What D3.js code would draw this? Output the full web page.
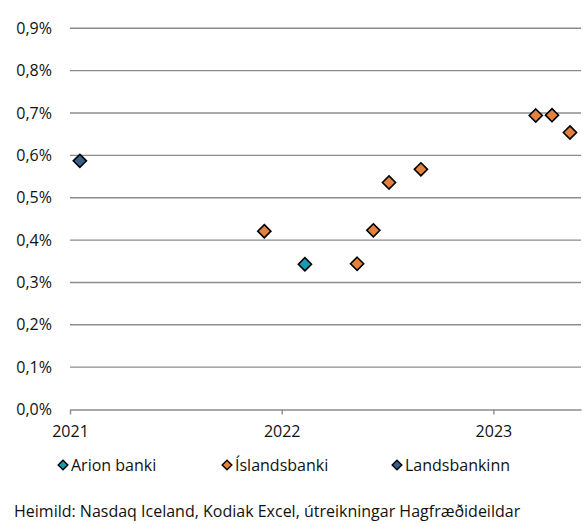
<!DOCTYPE html>
<html>
<head>
<meta charset="utf-8">
<script src="https://cdn.jsdelivr.net/npm/d3@7"></script>
<style>
  body { margin: 0; background: #fff; }
  text { font-family: "Open Sans", sans-serif; fill: #111; }
</style>
</head>
<body>
<script>
// series names and colours
var seriesNames = ['Arion banki', 'Íslandsbanki', 'Landsbankinn'];
var seriesColors = ['#1a9bb0', '#e3823e', '#386089'];

// dates and values (%)
var arionDates = ['2022-02-10'];
var arionValues = [0.343];

var islandsDates = ['2021-12-02', '2022-05-11', '2022-06-08', '2022-07-05', '2022-08-29',
  '2023-03-15', '2023-04-12', '2023-05-13'];
var islandsValues = [0.421, 0.344, 0.423, 0.536, 0.567, 0.694, 0.695, 0.654];

var landsDates = ['2021-01-18'];
var landsValues = [0.587];

var yTicks = [0, 0.1, 0.2, 0.3, 0.4, 0.5, 0.6, 0.7, 0.8, 0.9];
var xTickLabels = ['2021', '2022', '2023'];
var source = 'Heimild: Nasdaq Iceland, Kodiak Excel, útreikningar Hagfræðideildar';

var width = 583, height = 524;
var plotLeft = 70, plotRight = 581, plotTop = 28.3, plotBottom = 409.5;
var fontSize = '16px';

var parse = d3.timeParse('%Y-%m-%d');

var svg = d3.select('body').append('svg')
  .attr('width', width)
  .attr('height', height);

var x = d3.scaleTime()
  .domain([parse('2021-01-01'), parse('2023-06-01')])
  .range([plotLeft, plotRight]);

var y = d3.scaleLinear()
  .domain([0, 0.9])
  .range([plotBottom, plotTop]);

// gridlines
svg.append('g')
  .selectAll('line')
  .data(yTicks.filter(function(d) { return d > 0; }))
  .enter()
  .append('line')
  .attr('x1', plotLeft)
  .attr('x2', plotRight)
  .attr('y1', function(d) { return y(d); })
  .attr('y2', function(d) { return y(d); })
  .attr('stroke', '#8c8c8c')
  .attr('stroke-width', 1.4);

// y labels
var fmt = function(d) { return d.toFixed(1).replace('.', ',') + '%'; };
var yAxis = d3.axisLeft(y).tickValues(yTicks).tickFormat(fmt).tickSize(0).tickPadding(18);
svg.append('g')
  .attr('transform', 'translate(' + plotLeft + ',0)')
  .call(yAxis)
  .call(function(g) { g.select('.domain').remove(); })
  .selectAll('text')
  .style('font-family', '"Open Sans", sans-serif')
  .style('font-size', fontSize)
  .attr('fill', '#111');

// x axis
var xAxis = d3.axisBottom(x)
  .tickValues(xTickLabels.map(function(d) { return parse(d + '-01-01'); }))
  .tickFormat(function(d, i) { return xTickLabels[i]; })
  .tickSize(5)
  .tickSizeOuter(0)
  .tickPadding(11);
var gx = svg.append('g')
  .attr('transform', 'translate(0,' + plotBottom + ')')
  .call(xAxis);
gx.select('.domain').attr('stroke', '#8c8c8c').attr('stroke-width', 1.4);
gx.selectAll('.tick line').attr('stroke', '#8c8c8c').attr('stroke-width', 1.4);
gx.selectAll('text')
  .style('font-family', '"Open Sans", sans-serif')
  .style('font-size', fontSize)
  .attr('fill', '#111');

// points
var allSeries = [
  { dates: arionDates, values: arionValues },
  { dates: islandsDates, values: islandsValues },
  { dates: landsDates, values: landsValues }
];

var diamond = d3.symbol().type(d3.symbolDiamond2).size(110);

allSeries.forEach(function(s, si) {
  var pts = s.dates.map(function(d, i) { return { date: parse(d), value: s.values[i] }; });
  svg.append('g')
    .selectAll('path')
    .data(pts)
    .enter()
    .append('path')
    .attr('d', diamond)
    .attr('transform', function(d) { return 'translate(' + x(d.date) + ',' + y(d.value) + ')'; })
    .attr('fill', seriesColors[si])
    .attr('stroke', '#000')
    .attr('stroke-width', 1.6);
});

// legend
var legendX = [63, 227, 397];
var legend = svg.append('g');
seriesNames.forEach(function(name, i) {
  legend.append('path')
    .attr('d', d3.symbol().type(d3.symbolDiamond2).size(60))
    .attr('transform', 'translate(' + legendX[i] + ',465)')
    .attr('fill', seriesColors[i])
    .attr('stroke', '#000')
    .attr('stroke-width', 1.4);
  legend.append('text')
    .attr('x', legendX[i] + 8)
    .attr('y', 471)
    .style('font-size', fontSize)
    .text(name);
});

// source line
svg.append('text')
  .attr('x', 14)
  .attr('y', 517)
  .style('font-size', fontSize)
  .text(source);
</script>
</body>
</html>
